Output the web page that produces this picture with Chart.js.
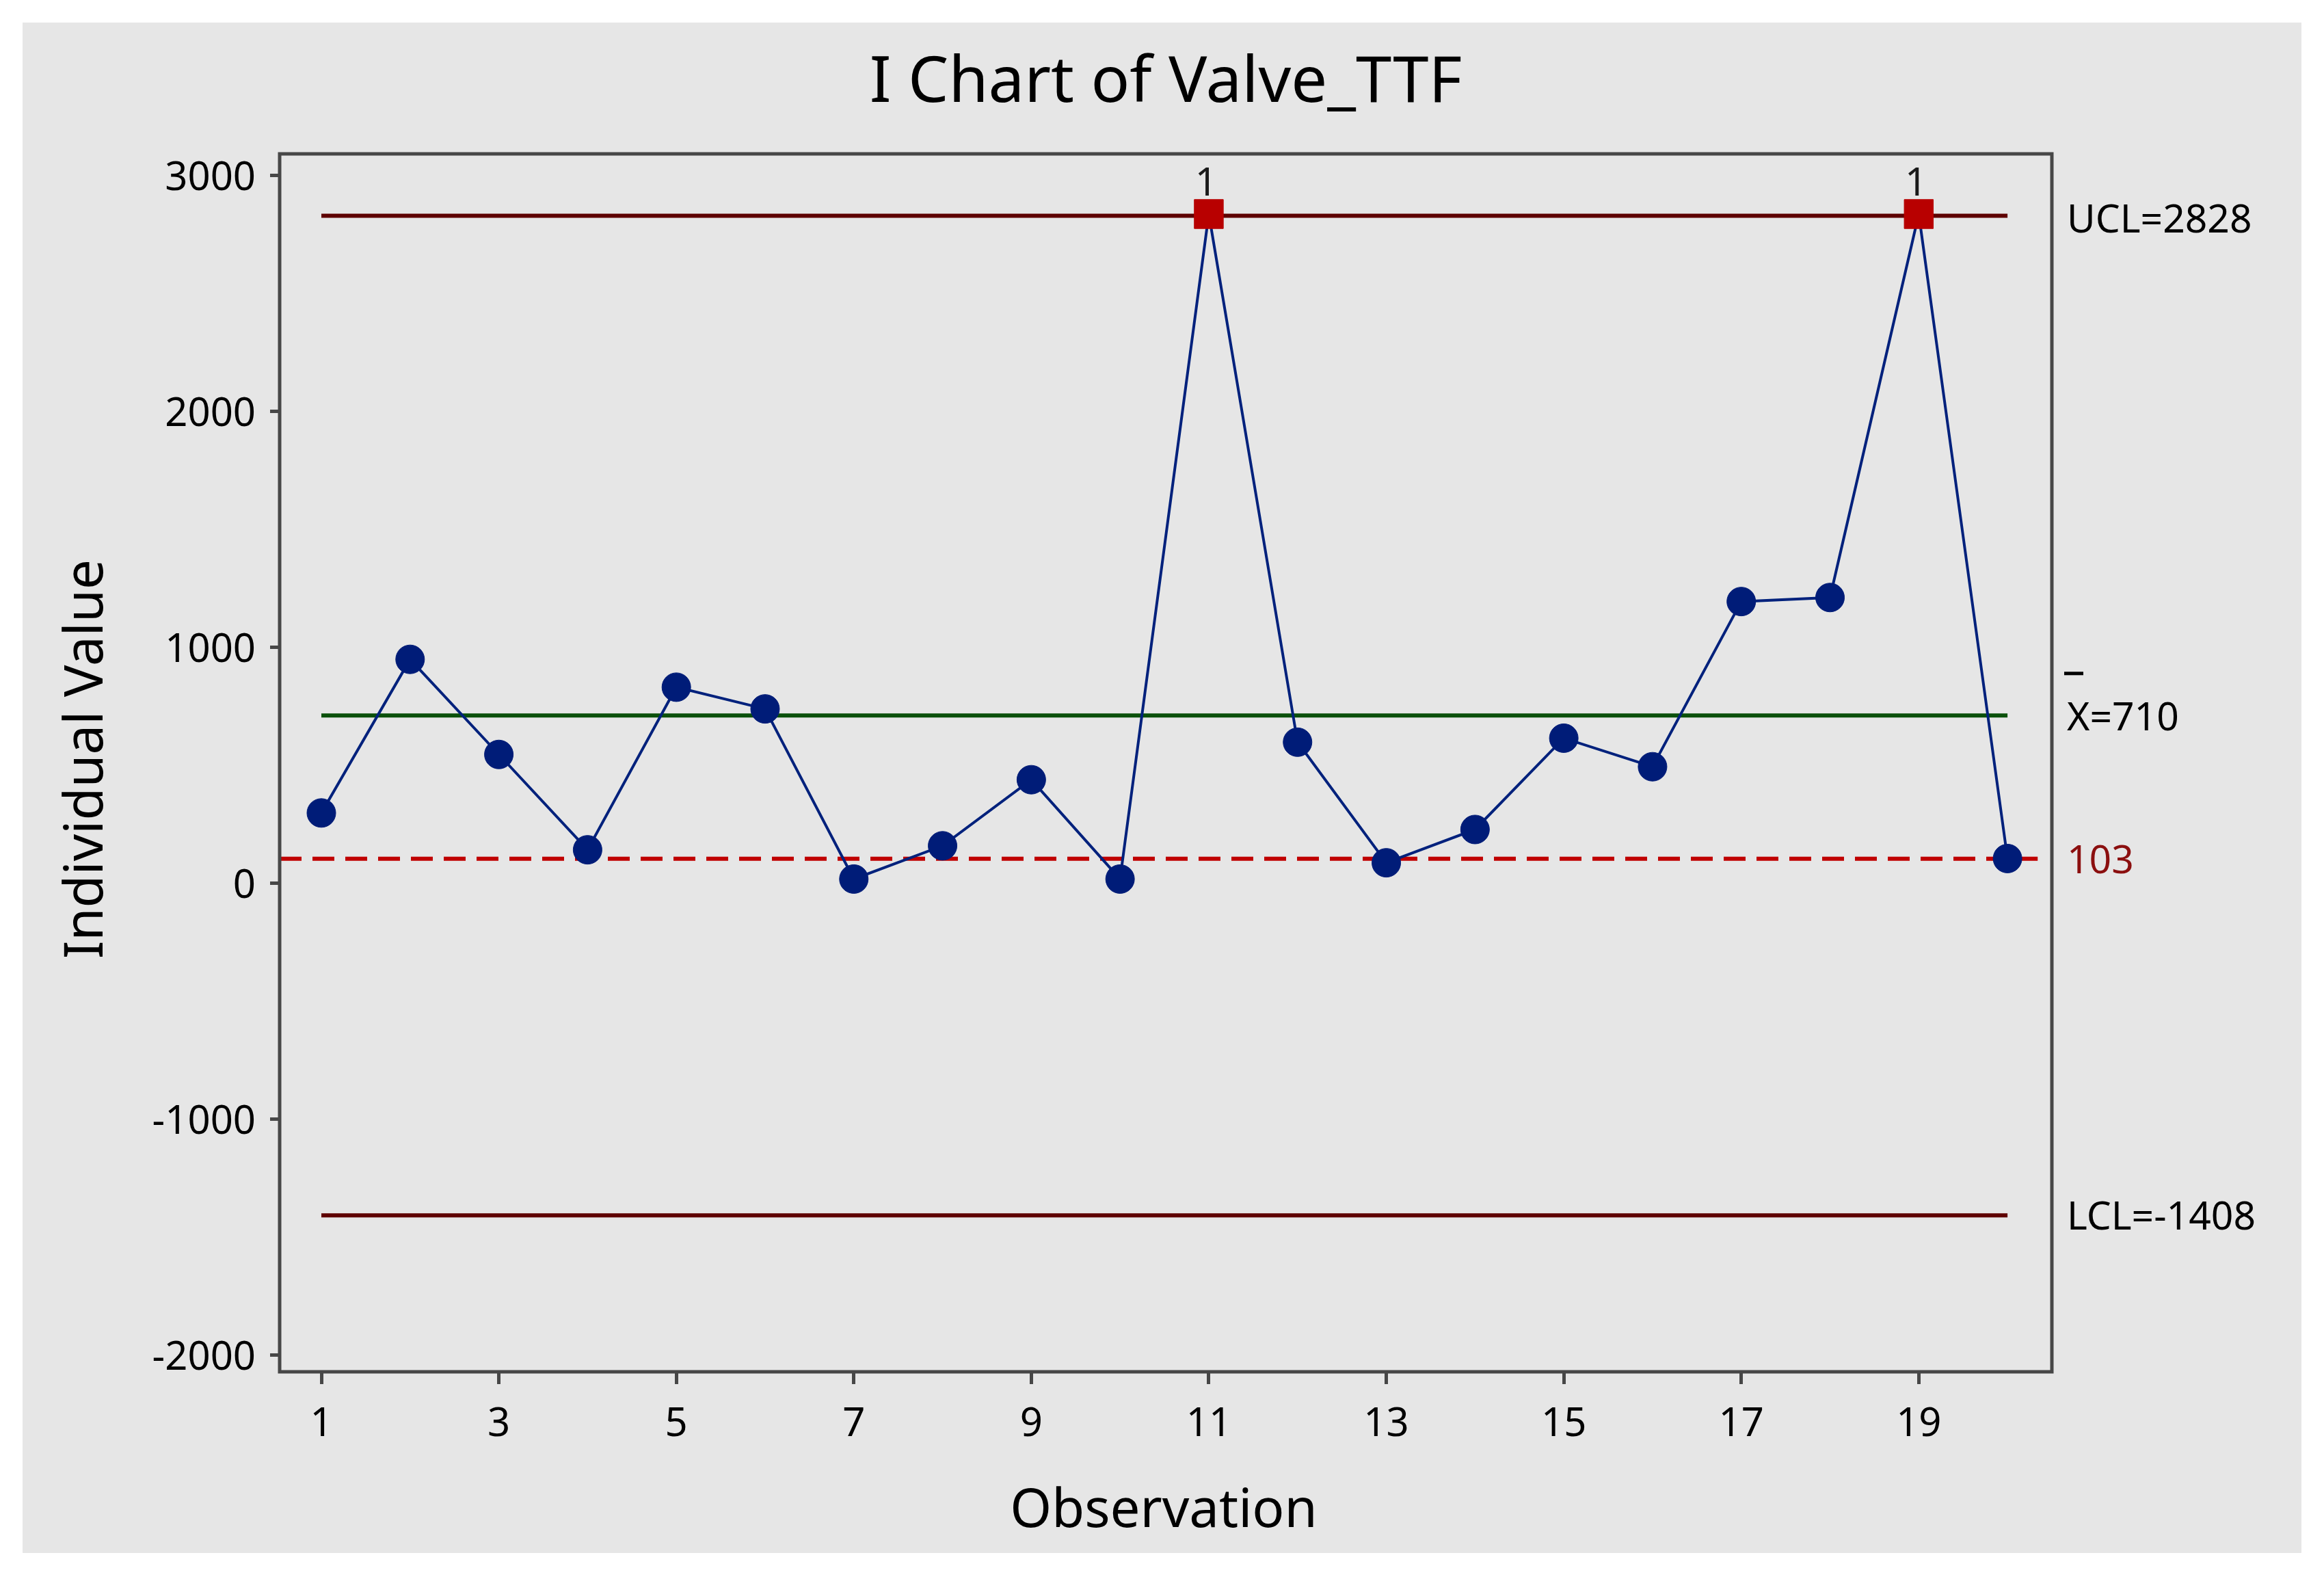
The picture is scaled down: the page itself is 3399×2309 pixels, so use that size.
<!DOCTYPE html>
<html>
<head>
<meta charset="utf-8">
<title>I Chart of Valve_TTF</title>
<script src="https://cdn.jsdelivr.net/npm/chart.js@4.4.0/dist/chart.umd.min.js"></script>
<style>
    html, body { margin: 0; padding: 0; background: #ffffff; }
    #wrap { width: 3399px; height: 2309px; }
</style>
</head>
<body>
<div id="wrap"><canvas id="iChart" width="3399" height="2309"></canvas></div>
<script>
const observations = [1, 2, 3, 4, 5, 6, 7, 8, 9, 10, 11, 12, 13, 14, 15, 16, 17, 18, 19, 20];
const ttfValues = [297, 948, 545, 141, 830, 738, 17, 158, 438, 17, 2835, 597, 86, 227, 614, 493, 1193, 1210, 2835, 104];

// Tick labels
const xTicks = [1, 3, 5, 7, 9, 11, 13, 15, 17, 19];
const yTicks = [-2000, -1000, 0, 1000, 2000, 3000];

// Control limits
const ucl = 2828;
const centerLine = 710;
const lcl = -1408;
const refValue = 103;

const FONT = "'Noto Sans', 'Open Sans', sans-serif";
Chart.defaults.font.family = FONT;

const xMin = 0.53, xMax = 20.5;

function flat(value, from, to) {
    return [{ x: from, y: value }, { x: to, y: value }];
}

// Background, frame and all the text around the plot
const decorPlugin = {
    id: 'decor',
    beforeDraw(chart) {
        const ctx = chart.ctx;
        ctx.save();
        ctx.fillStyle = '#ffffff';
        ctx.fillRect(0, 0, chart.width, chart.height);
        ctx.fillStyle = '#e6e6e6';
        ctx.fillRect(33, 33, 3333, 2238);
        ctx.restore();
    },
    afterDraw(chart) {
        const ctx = chart.ctx;
        const area = chart.chartArea;
        const yScale = chart.scales.y;
        ctx.save();

        // plot frame
        ctx.strokeStyle = '#474747';
        ctx.lineWidth = 5;
        ctx.strokeRect(area.left, area.top, area.right - area.left, area.bottom - area.top);

        // title
        ctx.fillStyle = '#000000';
        ctx.textAlign = 'center';
        ctx.textBaseline = 'alphabetic';
        ctx.font = '94px ' + FONT;
        ctx.fillText('I Chart of Valve_TTF', (area.left + area.right) / 2, 149);

        // axis titles
        ctx.font = '78px ' + FONT;
        ctx.fillText('Observation', 1702, 2233);
        ctx.save();
        ctx.translate(150, 1110);
        ctx.rotate(-Math.PI / 2);
        ctx.fillText('Individual Value', 0, 0);
        ctx.restore();

        // limit labels on the right
        ctx.textAlign = 'left';
        ctx.font = '57px ' + FONT;
        const lx = area.right + 22;
        ctx.fillText('UCL=' + ucl, lx, yScale.getPixelForValue(ucl) + 25);
        ctx.fillText('LCL=' + lcl, lx, yScale.getPixelForValue(lcl) + 21);
        const cy = yScale.getPixelForValue(centerLine);
        ctx.fillText('X=' + centerLine, lx, cy + 22);
        ctx.fillRect(lx - 4, cy - 64, 28, 5);
        ctx.fillStyle = '#8b0f0f';
        ctx.fillText(String(refValue), lx, yScale.getPixelForValue(refValue) + 21);

        // test 1 flags above out-of-control points
        ctx.fillStyle = '#1a1a1a';
        ctx.textAlign = 'center';
        const meta = chart.getDatasetMeta(0);
        ttfValues.forEach((v, i) => {
            if (v > ucl) {
                const pt = meta.data[i];
                ctx.fillText('1', pt.x - 4, pt.y - 27);
            }
        });
        ctx.restore();
    }
};

const ctx = document.getElementById('iChart').getContext('2d');
new Chart(ctx, {
    type: 'line',
    data: {
        datasets: [
            {
                label: 'Valve_TTF',
                data: observations.map((o, i) => ({ x: o, y: ttfValues[i] })),
                borderColor: '#00217c',
                borderWidth: 4,
                pointStyle: ttfValues.map(v => v > ucl ? 'rect' : 'circle'),
                pointRadius: ttfValues.map(v => v > ucl ? 30 : 21),
                pointBackgroundColor: ttfValues.map(v => v > ucl ? '#b80000' : '#001c78'),
                pointBorderColor: ttfValues.map(v => v > ucl ? '#b80000' : '#001c78'),
                pointBorderWidth: 1,
                tension: 0,
                order: 0
            },
            {
                label: 'Reference',
                data: flat(refValue, xMin, 20.34),
                borderColor: '#c00000',
                borderWidth: 6,
                borderDash: [32, 16],
                pointRadius: 0,
                order: 1
            },
            {
                label: 'UCL',
                data: flat(ucl, 1, 20),
                borderColor: '#5e0000',
                borderWidth: 6,
                pointRadius: 0,
                order: 2
            },
            {
                label: 'X-bar',
                data: flat(centerLine, 1, 20),
                borderColor: '#0a500a',
                borderWidth: 6,
                pointRadius: 0,
                order: 2
            },
            {
                label: 'LCL',
                data: flat(lcl, 1, 20),
                borderColor: '#5e0000',
                borderWidth: 6,
                pointRadius: 0,
                order: 2
            }
        ]
    },
    options: {
        responsive: false,
        animation: false,
        devicePixelRatio: 1,
        layout: {
            padding: { left: 109, right: 398, top: 225, bottom: 153 }
        },
        plugins: {
            legend: { display: false },
            tooltip: { enabled: false },
            title: { display: false }
        },
        scales: {
            x: {
                type: 'linear',
                min: xMin,
                max: xMax,
                afterBuildTicks: scale => { scale.ticks = xTicks.map(v => ({ value: v })); },
                afterFit: scale => { scale.height = 150; },
                border: { display: false },
                grid: {
                    display: true,
                    drawOnChartArea: false,
                    drawTicks: true,
                    tickLength: 18,
                    tickWidth: 5,
                    tickColor: '#474747'
                },
                ticks: {
                    autoSkip: false,
                    maxRotation: 0,
                    padding: 25,
                    color: '#000000',
                    font: { size: 58 },
                    callback: v => String(v)
                }
            },
            y: {
                type: 'linear',
                min: -2071,
                max: 3090,
                afterBuildTicks: scale => { scale.ticks = yTicks.map(v => ({ value: v })); },
                afterFit: scale => { scale.width = 300; },
                border: { display: false },
                grid: {
                    display: true,
                    drawOnChartArea: false,
                    drawTicks: true,
                    tickLength: 14,
                    tickWidth: 5,
                    tickColor: '#474747'
                },
                ticks: {
                    padding: 21,
                    labelOffset: 5,
                    color: '#000000',
                    font: { size: 58 },
                    callback: v => String(v)
                }
            }
        }
    },
    plugins: [decorPlugin]
});
</script>
</body>
</html>
